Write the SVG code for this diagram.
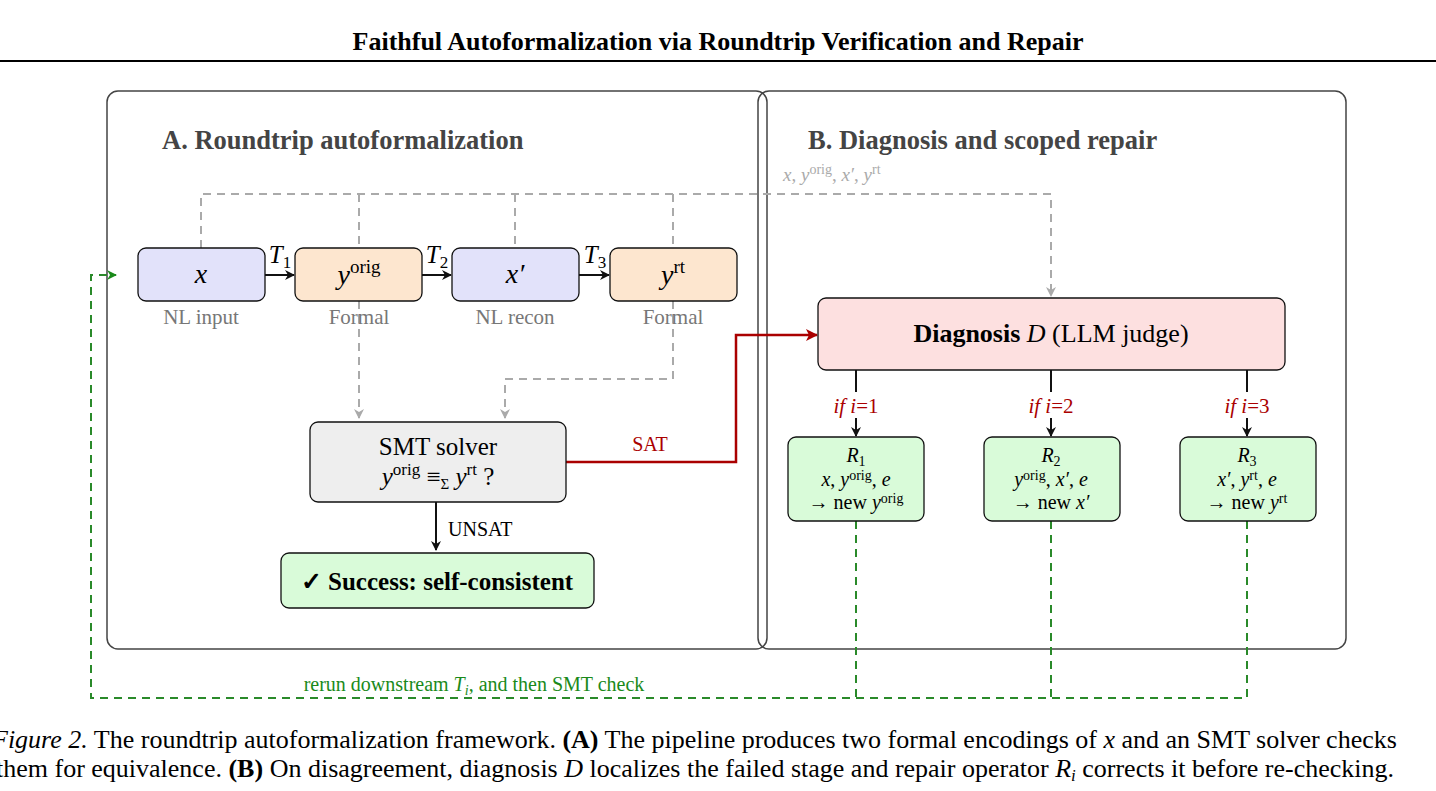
<svg xmlns="http://www.w3.org/2000/svg" width="1436" height="791" viewBox="0 0 1436 791">
<style>
text{font-family:"Liberation Serif","DejaVu Serif",serif;}
.m{font-style:italic}
.panel{fill:none;stroke:#444;stroke-width:1.5}
.node{stroke:#111;stroke-width:1.3}
.blue{fill:#e2e2fa}.orange{fill:#fde6cf}.gray{fill:#eeeeee}.green{fill:#d9fbd9}.pink{fill:#fde0e0}
.sub{fill:#777;font-size:21px;text-anchor:middle}
.gd{fill:none;stroke:#aaa;stroke-width:2;stroke-dasharray:8 6}
.grd{fill:none;stroke:#2a8a2a;stroke-width:2;stroke-dasharray:8 6}
.blk{fill:none;stroke:#111;stroke-width:2}
.red{fill:none;stroke:#a00;stroke-width:2.5}
</style>
<defs>
<marker id="ab" markerWidth="10" markerHeight="10" refX="9" refY="5" orient="auto" markerUnits="userSpaceOnUse"><path d="M0,0 L10,5 L0,10 L3,5z" fill="#111"/></marker>
<marker id="ag" markerWidth="10" markerHeight="10" refX="9" refY="5" orient="auto" markerUnits="userSpaceOnUse"><path d="M0,0 L10,5 L0,10 L3,5z" fill="#aaa"/></marker>
<marker id="ar" markerWidth="12" markerHeight="12" refX="11" refY="6" orient="auto" markerUnits="userSpaceOnUse"><path d="M0,0 L12,6 L0,12 L3,6z" fill="#a00"/></marker>
<marker id="agr" markerWidth="10" markerHeight="10" refX="9" refY="5" orient="auto" markerUnits="userSpaceOnUse"><path d="M0,0 L10,5 L0,10 L3,5z" fill="#1a8a1a"/></marker>
</defs>
<rect width="1436" height="791" fill="#fff"/>
<text x="718" y="50" font-size="26" font-weight="bold" text-anchor="middle">Faithful Autoformalization via Roundtrip Verification and Repair</text>
<line x1="0" y1="61" x2="1436" y2="61" stroke="#000" stroke-width="2"/>
<rect class="panel" x="107" y="91" width="660" height="558" rx="11"/>
<rect class="panel" x="758" y="91" width="588" height="558" rx="11"/>
<text x="162" y="149" font-size="26.5" font-weight="bold" fill="#444">A. Roundtrip autoformalization</text>
<text x="808" y="149" font-size="26.5" font-weight="bold" fill="#444">B. Diagnosis and scoped repair</text>
<g id="connectors">
<path class="gd" d="M201,248 V194 H1051 V296" marker-end="url(#ag)"/>
<path class="gd" d="M359,194 V248 M515,194 V248 M673,194 V248"/>
<path class="gd" d="M359,301 V418" marker-end="url(#ag)"/>
<path class="gd" d="M673,301 V379 H505 V418" marker-end="url(#ag)"/>
<path class="blk" d="M265,275 H294" marker-end="url(#ab)"/>
<path class="blk" d="M422,275 H451" marker-end="url(#ab)"/>
<path class="blk" d="M579,275 H609" marker-end="url(#ab)"/>
<path class="blk" d="M436,502 V550" marker-end="url(#ab)"/>
<path class="red" d="M566,462 H736 V335 H817" marker-end="url(#ar)"/>
<path class="blk" d="M856,370 V392 M1051,370 V392 M1247,370 V392"/>
<path class="blk" d="M856,418 V436" marker-end="url(#ab)"/>
<path class="blk" d="M1051,418 V436" marker-end="url(#ab)"/>
<path class="blk" d="M1247,418 V436" marker-end="url(#ab)"/>
<path class="grd" d="M856,521 V698 M1051,521 V698"/>
<path class="grd" d="M1247,521 V698 H91 V275 H116" marker-end="url(#agr)"/>
<text x="783" y="181" font-size="19" fill="#aaa"><tspan class="m">x</tspan>, <tspan class="m">y</tspan><tspan font-size="14" dy="-7">orig</tspan><tspan dy="7">, </tspan><tspan class="m">x′</tspan>, <tspan class="m">y</tspan><tspan font-size="14" dy="-7">rt</tspan></text>
<text x="280" y="263" font-size="25" text-anchor="middle"><tspan class="m">T</tspan><tspan font-size="17" dy="5">1</tspan></text>
<text x="437" y="263" font-size="25" text-anchor="middle"><tspan class="m">T</tspan><tspan font-size="17" dy="5">2</tspan></text>
<text x="595" y="263" font-size="25" text-anchor="middle"><tspan class="m">T</tspan><tspan font-size="17" dy="5">3</tspan></text>
<text x="650" y="451" font-size="20" fill="#a00" text-anchor="middle">SAT</text>
<text x="448" y="536" font-size="20">UNSAT</text>
<text x="856" y="413" font-size="21" fill="#a00" text-anchor="middle"><tspan class="m">if i</tspan>=1</text>
<text x="1051" y="413" font-size="21" fill="#a00" text-anchor="middle"><tspan class="m">if i</tspan>=2</text>
<text x="1247" y="413" font-size="21" fill="#a00" text-anchor="middle"><tspan class="m">if i</tspan>=3</text>
<text x="474" y="691" font-size="20" fill="#1a8a1a" text-anchor="middle">rerun downstream <tspan class="m">T</tspan><tspan class="m" font-size="14" dy="4">i</tspan><tspan dy="-4">, and then SMT check</tspan></text>
</g>
<g id="n-x"><rect class="node blue" x="138" y="248" width="127" height="53" rx="8"/><text x="201" y="283" font-size="28" text-anchor="middle" class="m">x</text><text class="sub" x="201" y="324">NL input</text></g>
<g id="n-yorig"><rect class="node orange" x="295" y="248" width="127" height="53" rx="8"/><text x="359" y="284" font-size="28" text-anchor="middle"><tspan class="m">y</tspan><tspan font-size="19" dy="-11">orig</tspan></text><text class="sub" x="359" y="324">Formal</text></g>
<g id="n-xp"><rect class="node blue" x="452" y="248" width="127" height="53" rx="8"/><text x="515" y="283" font-size="28" text-anchor="middle" class="m">x′</text><text class="sub" x="515" y="324">NL recon</text></g>
<g id="n-yrt"><rect class="node orange" x="610" y="248" width="127" height="53" rx="8"/><text x="673" y="284" font-size="28" text-anchor="middle"><tspan class="m">y</tspan><tspan font-size="19" dy="-11">rt</tspan></text><text class="sub" x="673" y="324">Formal</text></g>
<g id="n-smt"><rect class="node gray" x="310" y="422" width="256" height="80" rx="8"/><text x="438" y="455" font-size="25" text-anchor="middle">SMT solver</text><text x="438" y="485" font-size="25" text-anchor="middle"><tspan class="m">y</tspan><tspan font-size="17" dy="-10">orig</tspan><tspan dy="10"> ≡</tspan><tspan font-size="15" dy="4">Σ</tspan><tspan dy="-4"> </tspan><tspan class="m">y</tspan><tspan font-size="17" dy="-10">rt</tspan><tspan dy="10"> ?</tspan></text></g>
<g id="n-success"><rect class="node green" x="281" y="553" width="313" height="55" rx="8"/><text x="437" y="590" font-size="25" font-weight="bold" text-anchor="middle">✓ Success: self-consistent</text></g>
<g id="n-diag"><rect class="node pink" x="818" y="298" width="467" height="72" rx="8"/><text x="1051" y="342" font-size="26" text-anchor="middle"><tspan font-weight="bold">Diagnosis </tspan><tspan class="m">D</tspan> (LLM judge)</text></g>
<g id="n-r1"><rect class="node green" x="788" y="437" width="136" height="84" rx="8"/>
<text x="856" y="462" font-size="20" text-anchor="middle"><tspan class="m">R</tspan><tspan font-size="14" dy="4">1</tspan></text>
<text x="856" y="486" font-size="20" text-anchor="middle"><tspan class="m">x</tspan>, <tspan class="m">y</tspan><tspan font-size="14" dy="-6">orig</tspan><tspan dy="6">, </tspan><tspan class="m">e</tspan></text>
<text x="856" y="509" font-size="20" text-anchor="middle">→ new <tspan class="m">y</tspan><tspan font-size="14" dy="-6">orig</tspan></text></g>
<g id="n-r2"><rect class="node green" x="984" y="437" width="136" height="84" rx="8"/>
<text x="1051" y="462" font-size="20" text-anchor="middle"><tspan class="m">R</tspan><tspan font-size="14" dy="4">2</tspan></text>
<text x="1051" y="486" font-size="20" text-anchor="middle"><tspan class="m">y</tspan><tspan font-size="14" dy="-6">orig</tspan><tspan dy="6">, </tspan><tspan class="m">x′</tspan>, <tspan class="m">e</tspan></text>
<text x="1051" y="509" font-size="20" text-anchor="middle">→ new <tspan class="m">x′</tspan></text></g>
<g id="n-r3"><rect class="node green" x="1180" y="437" width="136" height="84" rx="8"/>
<text x="1247" y="462" font-size="20" text-anchor="middle"><tspan class="m">R</tspan><tspan font-size="14" dy="4">3</tspan></text>
<text x="1247" y="486" font-size="20" text-anchor="middle"><tspan class="m">x′</tspan>, <tspan class="m">y</tspan><tspan font-size="14" dy="-6">rt</tspan><tspan dy="6">, </tspan><tspan class="m">e</tspan></text>
<text x="1247" y="509" font-size="20" text-anchor="middle">→ new <tspan class="m">y</tspan><tspan font-size="14" dy="-6">rt</tspan></text></g>
<text x="-8" y="748" font-size="26"><tspan font-style="italic">Figure 2.</tspan> The roundtrip autoformalization framework. <tspan font-weight="bold">(A)</tspan> The pipeline produces two formal encodings of <tspan class="m">x</tspan> and an SMT solver checks</text>
<text x="-4" y="777" font-size="26">them for equivalence. <tspan font-weight="bold">(B)</tspan> On disagreement, diagnosis <tspan class="m">D</tspan> localizes the failed stage and repair operator <tspan class="m">R</tspan><tspan class="m" font-size="17" dy="4">i</tspan><tspan dy="-4"> corrects it before re-checking.</tspan></text>
</svg>
